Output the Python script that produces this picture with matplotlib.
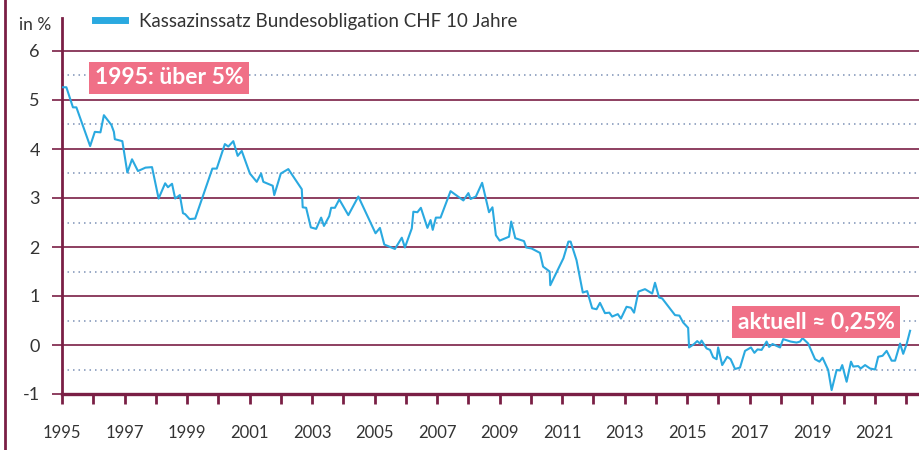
import matplotlib
matplotlib.use("Agg")
import matplotlib.pyplot as plt
from matplotlib.lines import Line2D

# ---- data ----
years = [
    1995.00, 1995.14, 1995.35, 1995.46, 1995.90, 1996.05, 1996.23, 1996.34, 1996.58, 1996.66,
    1996.69, 1996.93, 1997.09, 1997.24, 1997.43, 1997.67, 1997.88, 1998.09, 1998.30, 1998.39,
    1998.52, 1998.62, 1998.77, 1998.87, 1998.94, 1999.08, 1999.26, 1999.81, 1999.95, 2000.21,
    2000.32, 2000.48, 2000.62, 2000.75, 2001.01, 2001.23, 2001.37, 2001.44, 2001.74, 2001.79,
    2002.00, 2002.24, 2002.67, 2002.70, 2002.81, 2002.96, 2003.13, 2003.29, 2003.38, 2003.55,
    2003.61, 2003.73, 2003.87, 2004.16, 2004.48, 2005.03, 2005.17, 2005.31, 2005.65, 2005.87,
    2005.97, 2006.19, 2006.24, 2006.37, 2006.48, 2006.69, 2006.79, 2006.86, 2006.96, 2007.11,
    2007.43, 2007.84, 2008.00, 2008.07, 2008.24, 2008.44, 2008.66, 2008.77, 2008.88, 2009.00,
    2009.30, 2009.37, 2009.50, 2009.78, 2009.85, 2010.02, 2010.29, 2010.39, 2010.60, 2010.62,
    2011.04, 2011.20, 2011.27, 2011.46, 2011.66, 2011.80, 2011.96, 2012.10, 2012.21, 2012.37,
    2012.51, 2012.60, 2012.78, 2012.88, 2013.06, 2013.20, 2013.30, 2013.44, 2013.65, 2013.88,
    2013.97, 2014.10, 2014.20, 2014.61, 2014.75, 2014.87, 2015.03, 2015.06, 2015.22, 2015.32,
    2015.41, 2015.46, 2015.62, 2015.73, 2015.83, 2015.94, 2015.99, 2016.12, 2016.28, 2016.39,
    2016.53, 2016.69, 2016.85, 2017.04, 2017.15, 2017.25, 2017.38, 2017.54, 2017.62, 2017.73,
    2017.97, 2018.07, 2018.31, 2018.50, 2018.61, 2018.69, 2018.87, 2019.09, 2019.23, 2019.33,
    2019.51, 2019.62, 2019.78, 2019.89, 2019.96, 2020.10, 2020.24, 2020.31, 2020.47, 2020.55,
    2020.69, 2020.85, 2021.01, 2021.11, 2021.25, 2021.38, 2021.54, 2021.65, 2021.81, 2021.91,
    2022.02, 2022.13,
]
rates = [
    5.26, 5.26, 4.85, 4.85, 4.06, 4.35, 4.34, 4.69, 4.49, 4.35,
    4.20, 4.16, 3.52, 3.79, 3.55, 3.62, 3.63, 2.99, 3.30, 3.22,
    3.29, 2.99, 3.06, 2.69, 2.67, 2.57, 2.58, 3.60, 3.60, 4.10,
    4.05, 4.16, 3.86, 3.96, 3.50, 3.33, 3.50, 3.33, 3.25, 3.06,
    3.50, 3.59, 3.18, 2.81, 2.80, 2.40, 2.37, 2.60, 2.43, 2.63,
    2.80, 2.80, 2.97, 2.65, 3.03, 2.28, 2.39, 2.05, 1.96, 2.19,
    1.99, 2.38, 2.72, 2.71, 2.80, 2.39, 2.55, 2.35, 2.60, 2.60,
    3.14, 2.95, 3.10, 2.98, 3.03, 3.31, 2.71, 2.81, 2.24, 2.13,
    2.21, 2.52, 2.18, 2.12, 1.99, 1.97, 1.88, 1.60, 1.50, 1.22,
    1.77, 2.11, 2.11, 1.73, 1.07, 1.10, 0.75, 0.73, 0.86, 0.65,
    0.66, 0.58, 0.63, 0.54, 0.78, 0.76, 0.66, 1.09, 1.14, 1.05,
    1.27, 0.97, 0.95, 0.61, 0.60, 0.46, 0.35, -0.05, 0.02, 0.08,
    0.03, 0.09, -0.07, -0.10, -0.25, -0.29, -0.05, -0.41, -0.24, -0.29,
    -0.49, -0.46, -0.12, -0.05, -0.16, -0.09, -0.10, 0.07, -0.04, 0.02,
    -0.05, 0.12, 0.07, 0.05, 0.07, 0.14, 0.03, -0.29, -0.34, -0.26,
    -0.51, -0.92, -0.51, -0.52, -0.41, -0.75, -0.34, -0.44, -0.43, -0.48,
    -0.41, -0.48, -0.50, -0.24, -0.22, -0.12, -0.32, -0.32, 0.03, -0.18,
    0.02, 0.29,
]
y_ticks = [-1, 0, 1, 2, 3, 4, 5, 6]
solid_grid = [0, 1, 2, 3, 4, 5, 6]
dotted_grid = [-0.5, 0.5, 1.5, 2.5, 3.5, 4.5, 5.5]
x_tick_years = list(range(1995, 2023))
x_label_years = list(range(1995, 2022, 2))
series_label = "Kassazinssatz Bundesobligation CHF 10 Jahre"
unit_label = "in %"
note_start = "1995: über 5%"
note_now = "aktuell ≈ 0,25%"

# ---- style ----
plt.rcParams['font.family'] = ['Lato', 'DejaVu Sans']
MAROON = '#7a1f45'
BLUE = '#2aa9e0'
PINK = '#f07087'
DOT = '#7d92b6'
TEXT = '#333333'

fig = plt.figure(figsize=(9.2, 4.5), dpi=100)
ax = fig.add_axes([62/920, 56/450, 858/920, 376/450])
ax.set_xlim(1995, 1995 + 858/31.26)
ax.set_ylim(-1, 6 + 33/49)

for v in solid_grid:
    ax.axhline(v, color=MAROON, lw=1.2, zorder=1)
for v in dotted_grid:
    ax.axhline(v, color=DOT, lw=1.1, ls=(0, (1, 2.6)), zorder=1)

line, = ax.plot(years, rates, color=BLUE, lw=1.5, zorder=3, label=series_label)

for s in ['top', 'right']:
    ax.spines[s].set_visible(False)
ax.spines['left'].set_color(MAROON)
ax.spines['left'].set_linewidth(2.0)
ax.spines['bottom'].set_color(MAROON)
ax.spines['bottom'].set_linewidth(2.4)

ax.set_yticks(y_ticks)
ax.set_yticklabels([str(v) if v >= 0 else "-" + str(abs(v)) for v in y_ticks])
ax.tick_params(axis='y', length=7, width=1.2, color=MAROON, pad=9,
               labelsize=13, labelcolor=TEXT)
ax.set_xticks(x_tick_years)
ax.set_xticklabels([str(y) if y in x_label_years else '' for y in x_tick_years])
ax.tick_params(axis='x', length=7, width=2, color=MAROON, pad=15,
               labelsize=12, labelcolor=TEXT)

box = dict(boxstyle='square,pad=0.24', facecolor=PINK, edgecolor='none')
ax.text(1998.42, 5.45, note_start, ha='center', va='center', color='white',
        fontsize=16.5, fontweight='bold', bbox=box, zorder=5)
ax.text(2019.12, 0.47, note_now, ha='center', va='center', color='white',
        fontsize=16.5, fontweight='bold', bbox=box, zorder=5)

leg = ax.legend(loc='center left', bbox_to_anchor=(95/920, 1 - 21/450),
                bbox_transform=fig.transFigure, frameon=False, fontsize=13.5,
                handlelength=1.6, handletextpad=0.75, borderpad=0, borderaxespad=0,
                labelcolor=TEXT)
leg.get_lines()[0].set_linewidth(5)

fig.text(35/920, 1 - 25/450, unit_label, ha='center', va='center',
         fontsize=12.5, color=TEXT)
fig.add_artist(Line2D([5/920, 5/920], [0, 1], color=MAROON, lw=2))

fig.savefig('out.png', dpi=100)
